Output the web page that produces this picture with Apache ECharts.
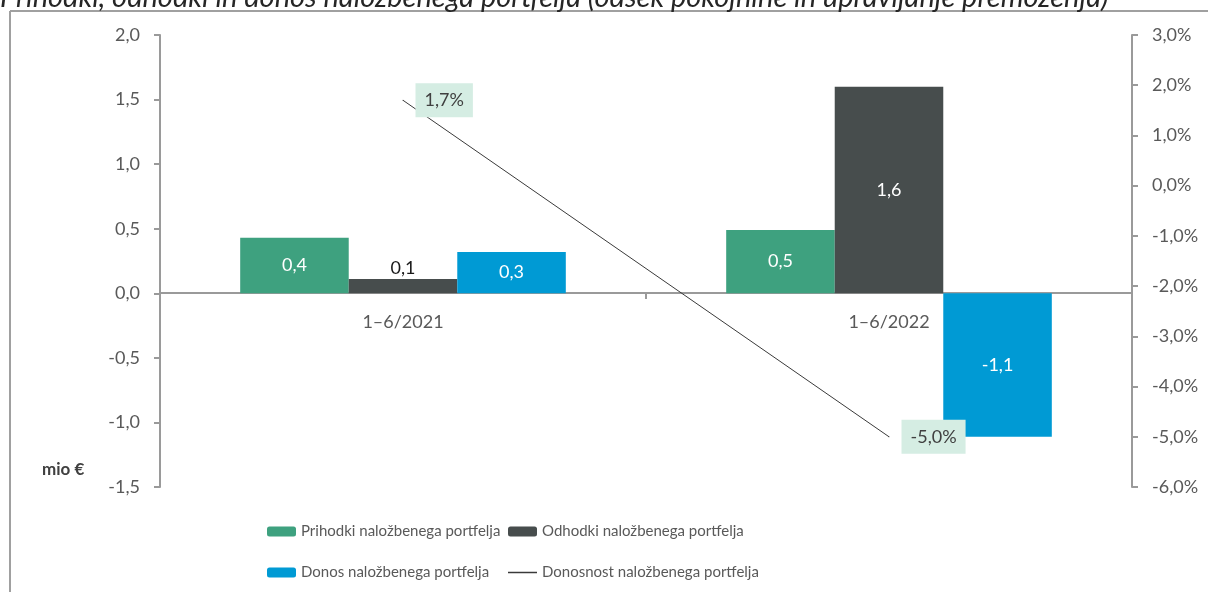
<!DOCTYPE html>
<html>
<head>
<meta charset="utf-8">
<script src="https://cdn.jsdelivr.net/npm/echarts@6/dist/echarts.min.js"></script>
<style>
html,body{margin:0;padding:0;background:#fff;}
#c{width:1208px;height:592px;}
</style>
</head>
<body>
<div id="c"></div>
<script>
const categories = ['1–6/2021', '1–6/2022'];
const prihodki = [0.43, 0.49];
const odhodki = [0.11, 1.60];
const donos = [0.32, -1.11];
const donosnost = [1.7, -5.0];
const seriesNames = ['Prihodki naložbenega portfelja', 'Odhodki naložbenega portfelja', 'Donos naložbenega portfelja', 'Donosnost naložbenega portfelja'];
const titleText = 'Prihodki, odhodki in donos naložbenega portfelja (odsek pokojnine in upravljanje premoženja)';
const unitLabel = 'mio €';

const FONT = 'Lato';
const TXT = '#595959';
const AX = '#9a9a9a';
const comma = v => v.toFixed(1).replace('.', ',');

const chart = echarts.init(document.getElementById('c'));
const legendBase = {
  itemWidth: 29, itemHeight: 10, itemGap: 0,
  textStyle: {fontFamily: FONT, fontSize: 15, color: TXT},
  selectedMode: false
};
chart.setOption({
  animation: false,
  textStyle: {fontFamily: FONT},
  grid: {left: 160, right: 76, top: 35, bottom: 105},
  graphic: [
    {type: 'line', shape: {x1: 10, y1: 11, x2: 1208, y2: 11}, style: {stroke: '#a0a0a0', lineWidth: 2}},
    {type: 'line', shape: {x1: 10, y1: 11, x2: 10, y2: 592}, style: {stroke: '#a0a0a0', lineWidth: 2}},
    {type: 'text', x: 0, y: 12, style: {text: titleText, fontFamily: FONT, fontStyle: 'italic', fontSize: 29, fill: '#262626', verticalAlign: 'bottom'}},
    {type: 'text', x: 42, y: 470, style: {text: unitLabel, fontFamily: FONT, fontWeight: 'bold', fontSize: 17, fill: '#404040', verticalAlign: 'middle'}}
  ],
  legend: [
    Object.assign({}, legendBase, {left: 262, top: 519, data: [seriesNames[0]]}),
    Object.assign({}, legendBase, {left: 503, top: 519, data: [seriesNames[1]]}),
    Object.assign({}, legendBase, {left: 262, top: 560, data: [seriesNames[2]]}),
    Object.assign({}, legendBase, {left: 503, top: 560, itemHeight: 1.5, data: [{name: seriesNames[3], icon: 'rect'}]})
  ],
  xAxis: {
    type: 'category', data: categories,
    offset: -194,
    axisLine: {onZero: false, lineStyle: {color: AX, width: 2}},
    axisTick: {show: true, length: 6, lineStyle: {color: AX, width: 2}},
    axisLabel: {color: TXT, fontSize: 18, margin: 20, fontFamily: FONT}
  },
  yAxis: [
    {
      type: 'value', min: -1.5, max: 2, interval: 0.5,
      axisLine: {show: true, lineStyle: {color: AX, width: 2}},
      axisTick: {show: true, length: 6, lineStyle: {color: AX, width: 2}},
      splitLine: {show: false},
      axisLabel: {color: TXT, fontSize: 18, margin: 20, fontFamily: FONT, formatter: v => comma(v)}
    },
    {
      type: 'value', min: -6, max: 3, interval: 1,
      axisLine: {show: true, lineStyle: {color: AX, width: 2}},
      axisTick: {show: true, length: 6, lineStyle: {color: AX, width: 2}},
      splitLine: {show: false},
      axisLabel: {color: TXT, fontSize: 18, margin: 20, fontFamily: FONT, formatter: v => comma(v) + '%'}
    }
  ],
  series: [
    {
      name: seriesNames[0], type: 'bar', data: prihodki, barGap: '0%', barCategoryGap: '33%',
      itemStyle: {color: '#3ea17f'},
      label: {show: true, position: 'inside', color: '#fff', fontSize: 18, fontFamily: FONT, formatter: p => comma(p.value)}
    },
    {
      name: seriesNames[1], type: 'bar', barGap: '0%', barCategoryGap: '33%',
      data: [
        {value: odhodki[0], label: {position: 'top', color: '#1a1a1a', distance: 2}},
        {value: odhodki[1]}
      ],
      itemStyle: {color: '#474d4d'},
      label: {show: true, position: 'inside', color: '#fff', fontSize: 18, fontFamily: FONT, formatter: p => comma(p.value)}
    },
    {
      name: seriesNames[2], type: 'bar', data: donos, barGap: '0%', barCategoryGap: '33%',
      itemStyle: {color: '#009ad4'},
      label: {show: true, position: 'inside', color: '#fff', fontSize: 18, fontFamily: FONT, formatter: p => comma(p.value)}
    },
    {
      name: seriesNames[3], type: 'line', yAxisIndex: 1, data: donosnost,
      symbol: 'circle', symbolSize: 1,
      itemStyle: {color: '#3a3a3a'},
      lineStyle: {color: '#3a3a3a', width: 1},
      label: {
        show: true, position: 'right', distance: 12, color: '#404040', fontSize: 18, fontFamily: FONT,
        backgroundColor: '#d5ede3', padding: [8, 9, 8, 9],
        formatter: p => comma(p.value) + '%'
      },
      z: 5
    }
  ]
});
</script>
</body>
</html>
